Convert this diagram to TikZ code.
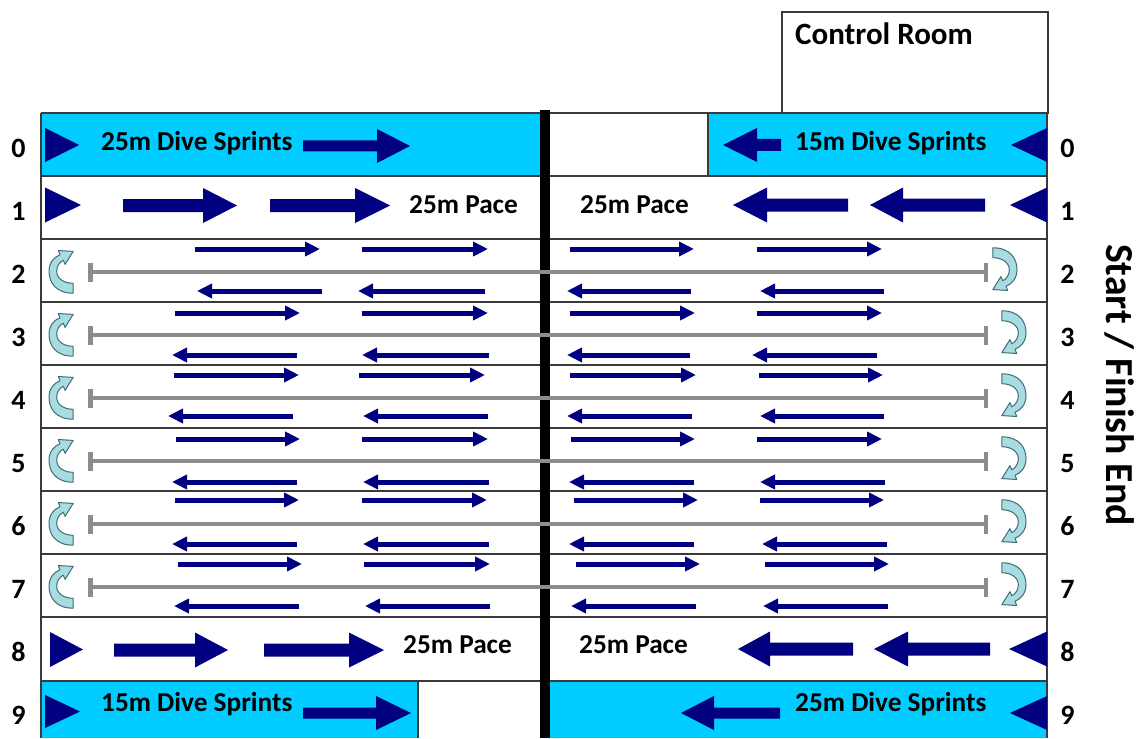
\documentclass[tikz,border=0pt]{standalone}
\usepackage{fontspec}
\setmainfont{Carlito}
\usetikzlibrary{arrows.meta}
\definecolor{navy}{HTML}{000080}
\definecolor{poolcyan}{HTML}{00CCFF}
\definecolor{lanegray}{HTML}{8C8C8C}
\definecolor{curlfill}{HTML}{A8DCE2}
\definecolor{curlline}{HTML}{3E6D73}
\definecolor{edgecol}{HTML}{3A3A3A}
\newcommand{\blkarrow}[6]{\fill[navy] ({#1},{#4-#5}) -- ({#2},{#4-#5}) -- ({#2},{#4-#6}) -- ({#3},{#4}) -- ({#2},{#4+#6}) -- ({#2},{#4+#5}) -- ({#1},{#4+#5}) -- cycle;}
\newcommand{\navytri}[4]{\fill[navy] ({#1},{#3-#4}) -- ({#2},{#3}) -- ({#1},{#3+#4}) -- cycle;}
\tikzset{
  lbl/.style={font=\bfseries\fontsize{27.3}{30}\selectfont, inner sep=0pt, anchor=base west},
  num/.style={font=\bfseries\fontsize{28}{32}\selectfont, inner sep=0pt, anchor=base},
  thinarrow/.style={navy, line width=5pt, -{Triangle[length=15pt,width=14pt]}},
  tline/.style={lanegray, line width=4.5pt, {Bar[width=19pt]}-{Bar[width=19pt]}},
  laneline/.style={edgecol, line width=1.3pt},
  curl/.pic={\filldraw[fill=curlfill,draw=curlline,line width=1pt,line join=round]
    (12,22) .. controls (-4,22) and (-10,12) .. (-10,2)
    .. controls (-10,-6) and (-5,-11) .. (0,-13)
    -- (-1.6,-16.8) -- (12,-16) -- (4.6,-4.2) -- (3,-8)
    .. controls (-1,-6) and (-3,-2) .. (-3,2)
    .. controls (-3,9) and (4,13) .. (12,13) -- cycle;}
}
\begin{document}
\begin{tikzpicture}[x=1pt,y=-1pt]
\useasboundingbox (0,0) rectangle (1139,738);
% cyan lanes
\fill[poolcyan] (41,113) rectangle (540,176);
\fill[poolcyan] (708,113) rectangle (1047,176);
\fill[poolcyan] (41,681) rectangle (418,738);
\fill[poolcyan] (550,681) rectangle (1047,738);
% control room
\draw[laneline] (782,12) rectangle (1048,113);
\node[lbl, font=\bfseries\fontsize{31}{34}\selectfont] (ctrl) at (795,45) {Control Room};
% lane lines
\draw[laneline] (41,113) -- (1047,113);
\foreach \yy in {176,239,302,365,428,491,554,617,681}
  \draw[laneline] (41,\yy) -- (1047,\yy);
\draw[laneline] (41,113) -- (41,738);
\draw[laneline] (1047,113) -- (1047,738);
\draw[laneline] (708,113) -- (708,176);
\draw[laneline] (418,681) -- (418,738);
% centre bar
\fill[black] (540,110) rectangle (550,738);
% lane numbers
\foreach \i in {0,...,9}{
  \node[num] (nl\i) at (18.5,{157.5+63*\i}) {\i};
  \node[num] (nr\i) at (1067.5,{157.5+63*\i}) {\i};
}
\node[font=\bfseries\fontsize{39.7}{44}\selectfont, rotate=-90, inner sep=0pt] (sfe) at (1120,385) {Start / Finish End};
% lane 0
\navytri{45}{79}{145}{17}
\blkarrow{303}{377}{410}{146}{5.5}{17}
\node[lbl] (l0a) at (101,151) {25m Dive Sprints};
\blkarrow{781}{757}{723}{145}{6}{17}
\node[lbl] (l0b) at (795,151) {15m Dive Sprints};
\navytri{1047}{1011}{145}{17}
% lane 1
\navytri{45}{81}{205}{17.5}
\blkarrow{123}{203}{237}{205.5}{6.5}{17.5}
\blkarrow{270}{355}{390}{205.5}{6.5}{17.5}
\node[lbl] (l1a) at (409,213) {25m Pace};
\node[lbl] (l1b) at (580,213) {25m Pace};
\blkarrow{848}{767}{733}{205}{6.5}{17.5}
\blkarrow{985}{903}{870}{205}{6.5}{17.5}
\navytri{1047}{1010}{205}{17.5}
% lane 8
\navytri{50}{83}{649.5}{17.5}
\blkarrow{114}{195}{228}{650}{6.5}{17.5}
\blkarrow{264}{349}{384}{650}{6.5}{17.5}
\node[lbl] (l8a) at (403,653) {25m Pace};
\node[lbl] (l8b) at (579,653) {25m Pace};
\blkarrow{853}{770}{738}{649}{6.5}{17.5}
\blkarrow{990}{908}{874}{649}{6.5}{17.5}
\navytri{1047}{1009}{649}{17.5}
% lane 9
\navytri{45}{80}{711.5}{16.5}
\node[lbl] (l9a) at (101,711) {15m Dive Sprints};
\blkarrow{303}{376}{411}{713}{5.5}{17}
\blkarrow{780}{714}{681}{713}{5.5}{17}
\node[lbl] (l9b) at (795,711) {25m Dive Sprints};
\navytri{1047}{1010}{713}{17}
% lanes 2-7: T lines and turn arrows
\foreach \c in {270.5,333.5,396.5,459.5,522.5,585.5}{
  \draw[tline] (88,{\c+1.5}) -- (988,{\c+1.5});
  \pic[scale=1.1] at (60,{\c-1.5}) {curl};
}
\pic[rotate=180,scale=1.1] at (1006,272) {curl};
\foreach \c in {333.5,396.5,459.5,522.5,585.5}
  \pic[rotate=180,scale=1.1] at (1015,{\c+1.5}) {curl};
% thin arrows
\foreach \ya/\a/\b/\cc/\d/\e/\f/\g/\h in {
  249/195/320/362/488/570/694/757/882,
  313/175/300/362/488/570/695/757/882,
  375/174/299/359/485/570/696/759/883,
  439/176/300/362/488/571/695/757/882,
  500/175/299/362/487/574/698/760/884,
  564/178/302/364/490/576/700/765/889}{
  \draw[thinarrow] (\a,\ya) -- (\b,\ya);
  \draw[thinarrow] (\cc,\ya) -- (\d,\ya);
  \draw[thinarrow] (\e,\ya) -- (\f,\ya);
  \draw[thinarrow] (\g,\ya) -- (\h,\ya);
}
\foreach \ya/\a/\b/\cc/\d/\e/\f/\g/\h in {
  291/322/197/485/358/691/567/884/760,
  355/297/172/489/362/690/567/877/752,
  416/293/168/488/363/692/567/884/760,
  482/297/172/489/363/694/569/885/760,
  544/297/172/489/363/694/569/887/762,
  606/299/174/490/365/696/571/888/763}{
  \draw[thinarrow] (\a,\ya) -- (\b,\ya);
  \draw[thinarrow] (\cc,\ya) -- (\d,\ya);
  \draw[thinarrow] (\e,\ya) -- (\f,\ya);
  \draw[thinarrow] (\g,\ya) -- (\h,\ya);
}
\end{tikzpicture}
\end{document}
